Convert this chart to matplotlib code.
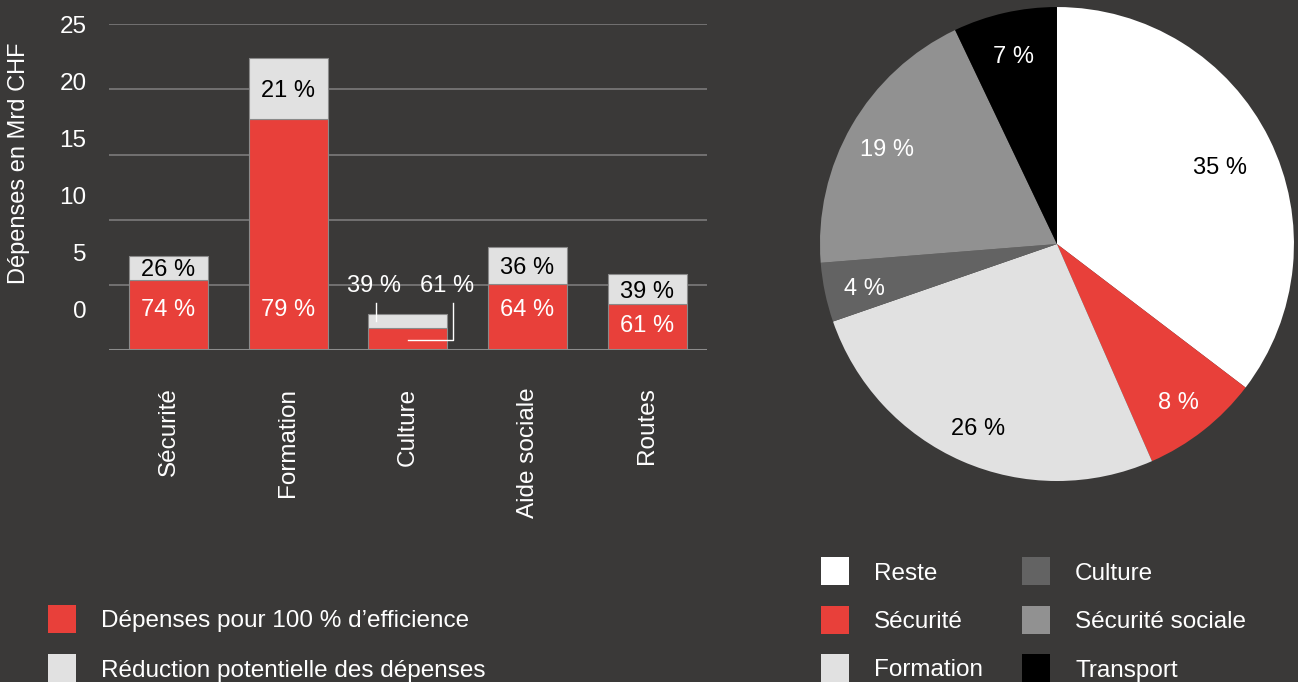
import numpy as np
import matplotlib
matplotlib.use("Agg")
import matplotlib.pyplot as plt
from matplotlib.patches import Rectangle

plt.rcParams['font.family'] = ['Liberation Sans', 'DejaVu Sans']

# bar chart data (Mrd CHF) and efficiency share
categories = ["Sécurité", "Formation", "Culture", "Aide sociale", "Routes"]
totals = [7.25, 22.4, 2.75, 7.9, 5.8]
efficient_pct = [74, 79, 61, 64, 61]
tick_values = [0, 5, 10, 15, 20, 25]

# pie chart data
pie_labels = ["Reste", "Sécurité", "Formation", "Culture", "Sécurité sociale", "Transport"]
pie_pct = [35, 8, 26, 4, 19, 7]

BG = "#3a3938"
RED = "#e8403a"
LIGHT = "#e1e1e1"
pie_colors = ["#ffffff", RED, LIGHT, "#636363", "#919191", "#000000"]
pie_text_colors = ["black", "white", "black", "white", "white", "white"]

W, H = 1298, 682
fig = plt.figure(figsize=(W / 100, H / 100), dpi=100, facecolor=BG)

# ---- bars ----
ax = fig.add_axes([0.0837, 0.4868, 0.4610, 0.4776])
ax.set_facecolor(BG)
x = np.arange(len(categories))
totals = np.array(totals)
red = totals * np.array(efficient_pct) / 100
grey = totals - red

for v in tick_values[1:]:
    ax.axhline(v, color="#727171", lw=1.4, zorder=0)
ax.axhline(0, color="#8c8c8c", lw=2.2, zorder=3)

ax.bar(x, red, width=0.66, color=RED, edgecolor="#8a8a8a", lw=0.8, zorder=2)
ax.bar(x, grey, bottom=red, width=0.66, color=LIGHT, edgecolor="#8a8a8a", lw=0.8, zorder=2)

ax.set_xlim(-0.5, 4.5)
ax.set_ylim(0, 25)
for s in ax.spines.values():
    s.set_visible(False)

# y labels are spread a little tighter than the grid
label_scale = 21.86 / 25
label_offset = 3.14
ax.set_yticks([label_offset + v * label_scale for v in tick_values])
ax.set_yticklabels([str(v) for v in tick_values])
ax.tick_params(axis="y", length=0, pad=16, labelsize=17.5, labelcolor="white")
ax.set_xticks(x)
ax.set_xticklabels(categories, rotation=90, va="top", ha="center")
ax.tick_params(axis="x", length=0, pad=27, labelsize=17.5, labelcolor="white")
ax.set_ylabel("Dépenses en Mrd CHF", color="white", fontsize=17)
ax.yaxis.set_label_coords(-0.131, 0.574)

pct_size = 17
for i, cat in enumerate(categories):
    gp = 100 - efficient_pct[i]
    if cat == "Culture":
        # small bar: labels above with leader lines
        ax.text(i - 0.28, 4.95, f"{gp} %", color="white", fontsize=pct_size,
                ha="center", va="center", zorder=5)
        ax.text(i + 0.33, 4.95, f"{efficient_pct[i]} %", color="white",
                fontsize=pct_size, ha="center", va="center", zorder=5)
        ax.plot([i - 0.267, i - 0.267], [2.24, 3.62], color="white", lw=1, zorder=5)
        ax.plot([i, i + 0.377, i + 0.377], [0.77, 0.77, 3.62],
                color="white", lw=1, zorder=5)
        continue
    ax.text(i, red[i] + grey[i] / 2 - 0.2, f"{gp} %", color="black", fontsize=pct_size,
            ha="center", va="center", zorder=5)
    ry = min(label_offset, red[i] - 1.6)
    ax.text(i, ry - 0.1, f"{efficient_pct[i]} %", color="white", fontsize=pct_size,
            ha="center", va="center", zorder=5)

# ---- pie ----
pax = fig.add_axes([0.6317, 0.2947, 0.3652, 0.695])
pax.set_facecolor(BG)
wedges, _ = pax.pie(pie_pct, colors=pie_colors, startangle=90, counterclock=False,
                    radius=1, wedgeprops=dict(lw=0))
for w, p, tc in zip(wedges, pie_pct, pie_text_colors):
    ang = np.deg2rad((w.theta1 + w.theta2) / 2)
    d = 0.77 if p == max(pie_pct) else 0.83
    pax.text(d * np.cos(ang), d * np.sin(ang) - 0.02, f"{p} %", color=tc, fontsize=17,
             ha="center", va="center")
pax.set_xlim(-1, 1)
pax.set_ylim(-1, 1)
pax.set_aspect("equal")
pax.axis("off")


# ---- legends (square + text, pixel layout) ----
def legend_row(px, py, color, text):
    fig.add_artist(Rectangle((px / W, 1 - (py + 14) / H), 28 / W, 28 / H,
                             transform=fig.transFigure, color=color, lw=0))
    fig.text((px + 53) / W, 1 - py / H, text, color="white", fontsize=17.5,
             ha="left", va="center_baseline")


legend_row(48, 619, RED, "Dépenses pour 100 % d\u2019efficience")
legend_row(48, 668, LIGHT, "Réduction potentielle des dépenses")

for k, (c, l) in enumerate(zip(pie_colors, pie_labels)):
    col, row = divmod(k, 3)
    legend_row(821 + col * 201, 571 + row * 48.5, c, l)

fig.savefig("out.png", dpi=100, facecolor=BG)
